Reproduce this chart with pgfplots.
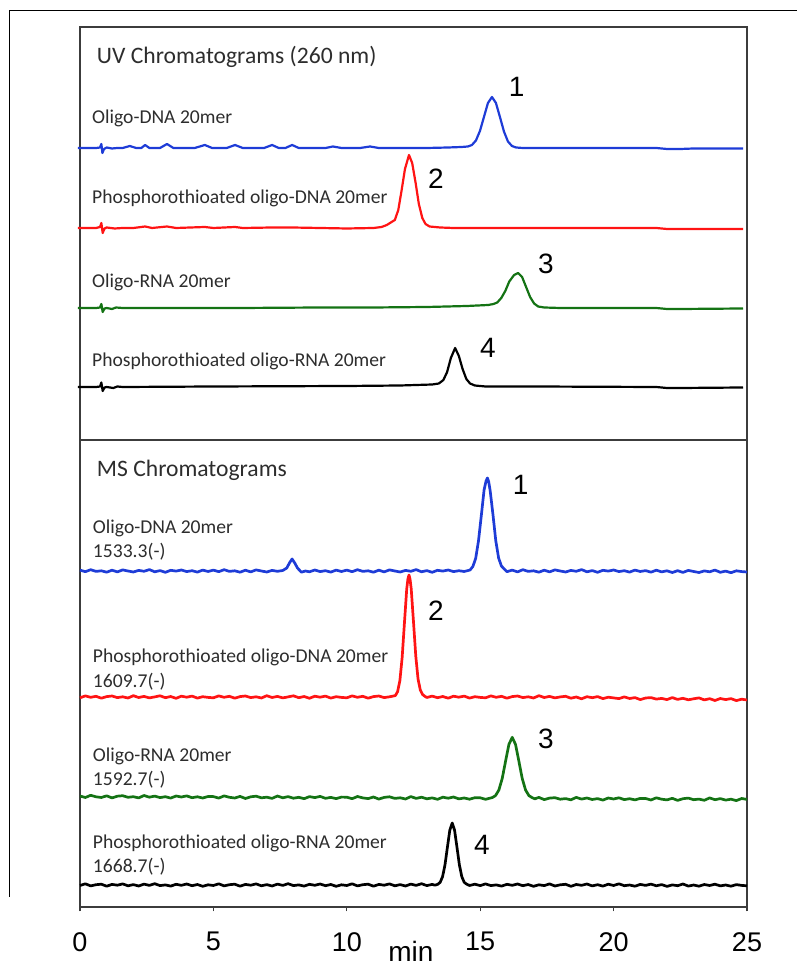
\documentclass[border=0pt]{standalone}
\usepackage{pgfplots}
\pgfplotsset{compat=1.18}
\usepackage{fontspec}
\setmainfont{Carlito}
\newfontfamily\arialf{Liberation Sans}
\definecolor{cblue}{RGB}{30,60,215}
\definecolor{cred}{RGB}{255,20,20}
\definecolor{cgreen}{RGB}{20,115,20}
\definecolor{txt}{RGB}{45,45,45}
\definecolor{frame}{RGB}{60,60,60}
\newcommand{\lab}{\fontsize{9.8}{11}\selectfont\color{txt}}
\newcommand{\ttl}{\fontsize{11.8}{13}\selectfont\color{txt}}
\newcommand{\num}{\arialf\fontsize{14}{16}\selectfont}
\begin{document}
\begin{tikzpicture}
\useasboundingbox (0,0) rectangle (398.5pt,484.5pt);
\draw[line width=0.5pt, black] (4.5pt,36pt) -- (4.5pt,479pt) -- (400pt,479pt);
\begin{axis}[
  at={(40pt,31pt)}, anchor=south west,
  scale only axis, width=333.5pt, height=440pt,
  xmin=0, xmax=25, ymin=0, ymax=880,
  xtick={0,5,10,15,20,25}, ytick=\empty,
  xtick pos=left, tick align=outside,
  major tick length=2.2pt,
  every tick/.style={frame, line width=0.6pt},
  axis line style={frame, line width=0.8pt},
  /pgf/number format/assume math mode=true,
  xticklabel style={font=\arialf\fontsize{13.5}{15}\selectfont, anchor=north, inner sep=0pt, yshift=-10.3pt},
  clip=false,
  every axis plot/.append style={no marks, line join=round, line width=1.1pt},
]
% divider
\addplot[frame, line width=0.8pt] coordinates {(0,467) (25,467)};

% ---------------- UV ----------------
\addplot[cblue] coordinates {
(-0.08,759) (0.6,759) (0.75,759.5) (0.8,763) (0.84,754) (0.9,758) (1.0,759.5) (1.2,758.5) (1.4,759) (1.6,759)
(1.87,761) (2.1,759) (2.3,759) (2.44,762) (2.6,759) (3.0,759) (3.26,763) (3.5,759) (4.3,759) (4.68,762)
(4.95,759) (5.5,759) (5.81,762) (6.1,759) (6.9,759) (7.2,762) (7.45,759) (7.7,759) (7.95,762) (8.2,759)
(9.2,759) (9.48,760.5) (9.8,759) (10.5,759) (10.87,760.5) (11.2,759) (12,759) (13,759) (13.8,759.5) (14.3,760)
(14.54,760.5) (14.69,762) (14.84,766.5) (14.99,776) (15.14,790) (15.29,804) (15.44,810) (15.59,804) (15.74,790)
(15.89,775.5) (16.04,765.5) (16.19,761) (16.34,759.5) (16.6,759) (18,759) (20,759) (21.6,759) (22,758)
(22.5,758) (23,758.5) (24.85,758.5)};
\addplot[cred] coordinates {
(-0.08,679) (0.6,679) (0.75,680) (0.8,684) (0.85,674) (0.92,678.5) (1.0,679.5) (1.3,678.5) (1.6,679) (2,679)
(2.44,680.5) (2.7,679) (3.26,680.5) (3.6,679) (4.68,680) (5,679) (5.81,680) (6.1,679) (7.2,679.5) (7.95,679.5)
(9,679) (10,678.5) (11,679) (11.3,680) (11.5,682) (11.65,684.5) (11.8,687) (11.93,697) (12.05,716) (12.18,738)
(12.33,752) (12.45,744) (12.58,724) (12.7,703) (12.83,689) (12.95,683) (13.1,680.5) (13.5,679.5) (14,679)
(18,679) (21.6,679) (22,678) (23,678) (24.85,678)};
\addplot[cgreen] coordinates {
(-0.08,599) (0.6,599) (0.75,599.5) (0.8,603) (0.85,595) (0.92,598.5) (1.0,599) (1.2,598) (1.35,599.5) (1.6,599)
(3,599) (6,599) (9,599.5) (11,599.5) (13,600) (14.5,601) (15.3,602) (15.5,603) (15.64,604.5) (15.79,609)
(15.94,616) (16.09,625.5) (16.27,632) (16.42,634) (16.57,630) (16.72,620) (16.87,610) (17.02,603.5) (17.17,600.5)
(17.4,599.5) (18,599) (21.6,599) (22,598) (22.5,598) (24.85,598.5)};
\addplot[black] coordinates {
(-0.08,520) (0.6,520) (0.75,520.5) (0.8,524.5) (0.85,516) (0.92,519.5) (1.0,520) (1.25,519) (1.4,520.5) (1.6,520)
(5,520.5) (10,521) (12,521.5) (13.2,522.5) (13.45,523.5) (13.62,527) (13.76,535) (13.9,549) (14.06,559)
(14.2,551) (14.34,538) (14.48,528) (14.62,523.5) (14.8,521.5) (15.2,520.5) (17,520.5) (21.6,520) (22,519)
(22.5,519) (24.85,519.5)};

% ---------------- MS ----------------
\addplot[cblue, line width=1.35pt] coordinates {
(0,336.9) (0.2,335.3) (0.4,337.3) (0.6,335.6) (0.8,336.2) (1.0,334.8) (1.2,336.8) (1.4,335.1) (1.6,337.1) (1.8,336)
(2.0,335) (2.2,336.6) (2.4,335.7) (2.6,337.4) (2.8,335.2) (3.0,336.4) (3.2,334.7) (3.4,336.7) (3.6,335.9) (3.8,337)
(4.0,335.4) (4.2,336.3) (4.4,334.9) (4.6,336.9) (4.8,335.5) (5.0,336.9) (5.2,335.3) (5.4,337.3) (5.6,335.6) (5.8,336.2)
(6.0,334.8) (6.2,336.8) (6.4,335.1) (6.6,337.1) (6.8,336) (7.0,335) (7.2,336.6) (7.4,335.7) (7.6,336.5) (7.75,339)
(7.85,344) (7.95,348) (8.05,344) (8.15,339) (8.3,334.8) (8.45,336) (8.6,335.2) (8.8,337) (9.0,335.4) (9.2,336.3)
(9.4,334.9) (9.6,336.9) (9.8,335.5) (10.0,336.9) (10.2,335.3) (10.4,337.3) (10.6,335.6) (10.8,336.2) (11.0,334.8)
(11.2,336.8) (11.4,335.1) (11.6,337.1) (11.8,336) (12.0,335) (12.2,336.6) (12.4,335.7) (12.6,337.4) (12.8,335.2)
(13.0,336.4) (13.2,334.7) (13.4,336.7) (13.6,335.9) (13.8,337) (14.0,335.4) (14.2,336.3) (14.4,335.5) (14.62,337)
(14.725,340.5) (14.83,348.5) (14.935,366) (15.04,391) (15.145,417) (15.22,426) (15.27,429) (15.32,425) (15.375,416)
(15.48,392) (15.585,366) (15.69,349) (15.795,341) (15.9,338) (16.0,335.3) (16.2,336.9) (16.4,335.1) (16.6,337.3)
(16.8,335.6) (17.0,336.2) (17.2,334.8) (17.4,336.8) (17.6,335.1) (17.8,337.1) (18.0,336) (18.2,335) (18.4,336.6)
(18.6,335.7) (18.8,337.4) (19.0,335.2) (19.2,336.4) (19.4,334.7) (19.6,336.7) (19.8,335.9) (20.0,337) (20.2,335.4)
(20.4,336.3) (20.6,334.9) (20.8,336.9) (21.0,335.5) (21.2,336.4) (21.4,334.8) (21.6,336.8) (21.8,335.1) (22.0,336.2)
(22.2,334.5) (22.4,336.3) (22.6,334.6) (22.8,336.6) (23.0,335.5) (23.2,334.5) (23.4,336.1) (23.6,335.2) (23.8,336.9)
(24.0,334.7) (24.2,335.9) (24.4,334.3) (24.6,336.2) (24.8,335.4) (25.0,335)};
\addplot[cred, line width=1.35pt] coordinates {
(0,209.2) (0.2,211.1) (0.4,209.7) (0.6,210.7) (0.8,208.8) (1.0,210.4) (1.2,211) (1.4,209.4) (1.6,210.2) (1.8,209)
(2.0,211.3) (2.2,209.5) (2.4,210.6) (2.6,209.1) (2.8,210.1) (3.0,211.2) (3.2,209.3) (3.4,210.5) (3.6,208.7) (3.8,210.8)
(4.0,209.8) (4.2,210.9) (4.4,208.9) (4.6,210.3) (4.8,209.6) (5.0,209.2) (5.2,211.1) (5.4,209.7) (5.6,210.7) (5.8,208.8)
(6.0,210.4) (6.2,211) (6.4,209.4) (6.6,210.2) (6.8,209) (7.0,211.3) (7.2,209.5) (7.4,210.6) (7.6,209.1) (7.8,210.1)
(8.0,211.2) (8.2,209.3) (8.4,210.5) (8.6,208.7) (8.8,210.8) (9.0,209.8) (9.2,210.9) (9.4,208.9) (9.6,210.3) (9.8,209.6)
(10.0,209.2) (10.2,211.1) (10.4,209.7) (10.6,210.7) (10.8,208.8) (11.0,210.4) (11.2,211) (11.4,209.4) (11.6,210.2)
(11.82,211.4) (11.905,215.4) (11.99,226.5) (12.075,249.6) (12.16,284) (12.245,317.7) (12.29,328) (12.33,332)
(12.37,328) (12.415,318) (12.5,285) (12.585,251) (12.67,228) (12.755,217) (12.84,212.5) (12.93,210.6) (13.0,209.5)
(13.2,210.9) (13.4,209.3) (13.6,210.5) (13.8,208.8) (14.0,210.8) (14.2,209.8) (14.4,210.9) (14.6,208.9) (14.8,210.3)
(15.0,209.6) (15.2,209.2) (15.4,211.1) (15.6,209.7) (15.8,210.7) (16.0,208.8) (16.2,210.4) (16.4,211) (16.6,209.4)
(16.8,210.2) (17.0,209) (17.2,211.3) (17.4,209.5) (17.6,210.6) (17.8,209.1) (18.0,210.1) (18.2,210.7) (18.4,208.8)
(18.6,210) (18.8,208.2) (19.0,210.3) (19.2,209.3) (19.4,210.4) (19.6,208.4) (19.8,209.8) (20.0,209.1) (20.2,208.4)
(20.4,210.1) (20.6,208.5) (20.8,209.4) (21.0,207.4) (21.2,209) (21.4,209.4) (21.6,207.9) (21.8,208.6) (22.0,207.4)
(22.2,209.4) (22.4,207.6) (22.6,208.7) (22.8,207.2) (23.0,208.2) (23.2,209.1) (23.4,207.1) (23.6,208.3) (23.8,206.5)
(24.0,208.5) (24.2,207.4) (24.4,208.4) (24.6,206.4) (24.8,207.8) (25.0,207)};
\addplot[cgreen, line width=1.35pt] coordinates {
(0,111) (0.2,109.5) (0.4,111.7) (0.6,110.2) (0.8,109.5) (1.0,111.2) (1.2,109.1) (1.4,110.8) (1.6,111.3) (1.8,109.7)
(2.0,110.3) (2.2,109.1) (2.4,111.5) (2.6,109.8) (2.8,110.9) (3.0,109.4) (3.2,110.3) (3.4,108.9) (3.6,111) (3.8,110)
(4.0,111.1) (4.2,109.3) (4.4,110.2) (4.6,109) (4.8,110.5) (5.0,110.4) (5.2,108.9) (5.4,111.1) (5.6,109.7) (5.8,109)
(6.0,110.6) (6.2,108.5) (6.4,110.2) (6.6,110.8) (6.8,109.2) (7.0,109.8) (7.2,108.6) (7.4,111) (7.6,109.2) (7.8,110.4)
(8.0,108.8) (8.2,109.7) (8.4,108.3) (8.6,110.4) (8.8,109.4) (9.0,110.6) (9.2,108.7) (9.4,109.6) (9.6,108.4) (9.8,109.9)
(10.0,109.8) (10.2,108.3) (10.4,110.5) (10.6,109.1) (10.8,108.4) (11.0,110) (11.2,107.9) (11.4,109.6) (11.6,110.2)
(11.8,108.6) (12.0,109.2) (12.2,108) (12.4,110.4) (12.6,108.6) (12.8,109.8) (13.0,108.2) (13.2,109.1) (13.4,107.7)
(13.6,109.8) (13.8,108.8) (14.0,110) (14.2,108.1) (14.4,109) (14.6,107.8) (14.8,109.3) (15.0,109.2) (15.2,107.7)
(15.45,109.4) (15.575,111.4) (15.7,117) (15.825,128.5) (15.95,145.7) (16.075,162.5) (16.2,169.7) (16.325,162.5)
(16.45,145.7) (16.575,128.5) (16.7,117) (16.825,111.4) (16.95,109.3) (17.05,108.2) (17.2,109.6) (17.4,107.4)
(17.6,108.9) (17.8,109.3) (18.0,107.8) (18.2,108.4) (18.4,107.2) (18.6,109.6) (18.8,107.9) (19.0,109) (19.2,107.5)
(19.4,108.4) (19.6,106.9) (19.8,109) (20.0,108) (20.2,109.2) (20.4,107.4) (20.6,108.3) (20.8,107.1) (21.0,108.6)
(21.2,108.5) (21.4,107) (21.6,109.2) (21.8,107.8) (22.0,107.1) (22.2,108.7) (22.4,106.6) (22.6,108.3) (22.8,108.9)
(23.0,107.3) (23.2,107.9) (23.4,106.7) (23.6,109.1) (23.8,107.3) (24.0,108.4) (24.2,106.9) (24.4,107.8) (24.6,106.4)
(24.8,108.5) (25.0,107.6)};
\addplot[black, line width=1.35pt] coordinates {
(0,21.5) (0.2,23.2) (0.4,21.1) (0.6,22.3) (0.8,22.8) (1.0,20.8) (1.2,22.6) (1.4,21.8) (1.6,23.1) (1.8,21.2)
(2.0,22.4) (2.2,21) (2.4,22.9) (2.6,21.6) (2.8,23.3) (3.0,21.4) (3.2,22.1) (3.4,20.9) (3.6,22.7) (3.8,21.7)
(4.0,23) (4.2,21.3) (4.4,22.5) (4.6,20.7) (4.8,22.2) (5.0,21.5) (5.2,23.2) (5.4,21.1) (5.6,22.3) (5.8,22.8)
(6.0,20.8) (6.2,22.6) (6.4,21.8) (6.6,23.1) (6.8,21.2) (7.0,22.4) (7.2,21) (7.4,22.9) (7.6,21.6) (7.8,23.3)
(8.0,21.4) (8.2,22.1) (8.4,20.9) (8.6,22.7) (8.8,21.7) (9.0,23) (9.2,21.3) (9.4,22.5) (9.6,20.7) (9.8,22.2)
(10.0,21.5) (10.2,23.2) (10.4,21.1) (10.6,22.3) (10.8,22.8) (11.0,20.8) (11.2,22.6) (11.4,21.8) (11.6,23.1) (11.8,21.2)
(12.0,22.4) (12.2,21) (12.4,22.9) (12.6,21.6) (12.8,23.3) (13.0,21.4) (13.2,22.6) (13.3,21.8) (13.41,22.7) (13.5,24.7)
(13.59,30.4) (13.68,42.1) (13.77,59.6) (13.86,76.7) (13.95,84) (14.04,76.7) (14.13,59.6) (14.22,42.1) (14.31,30.4)
(14.4,24.7) (14.49,22.9) (14.6,21.5) (14.8,22.8) (15.0,21.4) (15.2,23.1) (15.4,21.4) (15.6,22.1) (15.8,20.9) (16.0,22.7)
(16.2,21.7) (16.4,23) (16.6,21.3) (16.8,22.5) (17.0,20.7) (17.2,22.2) (17.4,21.4) (17.6,23.1) (17.8,21) (18.0,22.2)
(18.2,22.7) (18.4,20.7) (18.6,22.5) (18.8,21.7) (19.0,23) (19.2,21.1) (19.4,22.3) (19.6,20.9) (19.8,22.8) (20.0,21.5)
(20.2,23.2) (20.4,21.3) (20.6,22) (20.8,20.8) (21.0,22.6) (21.2,21.6) (21.4,22.9) (21.6,21.2) (21.8,22.4) (22.0,20.6)
(22.2,22.1) (22.4,21.3) (22.6,23) (22.8,20.9) (23.0,22) (23.2,20.8) (23.4,22.5) (23.6,21.5) (23.8,22.8) (24.0,21.1)
(24.2,22) (24.4,20.8) (24.6,22.4) (24.8,21.6) (25.0,21.2)};

% ---------------- texts ----------------
\node[anchor=base west, inner sep=0pt, font=\ttl] at (axis cs:0.62,843.7) {UV Chromatograms (260 nm)};
\node[anchor=base west, inner sep=0pt, font=\lab] at (axis cs:0.44,783) {Oligo-DNA 20mer};
\node[anchor=base west, inner sep=0pt, font=\lab] at (axis cs:0.44,703) {Phosphorothioated oligo-DNA 20mer};
\node[anchor=base west, inner sep=0pt, font=\lab] at (axis cs:0.44,619.7) {Oligo-RNA 20mer};
\node[anchor=base west, inner sep=0pt, font=\lab] at (axis cs:0.44,540.3) {Phosphorothioated oligo-RNA 20mer};

\node[anchor=base west, inner sep=0pt, font=\ttl] at (axis cs:0.62,430.3) {MS Chromatograms};
\node[anchor=base west, inner sep=0pt, font=\lab] at (axis cs:0.47,373) {Oligo-DNA 20mer};
\node[anchor=base west, inner sep=0pt, font=\lab] at (axis cs:0.47,349.7) {1533.3(-)};
\node[anchor=base west, inner sep=0pt, font=\lab] at (axis cs:0.47,244.3) {Phosphorothioated oligo-DNA 20mer};
\node[anchor=base west, inner sep=0pt, font=\lab] at (axis cs:0.47,219.3) {1609.7(-)};
\node[anchor=base west, inner sep=0pt, font=\lab] at (axis cs:0.47,145.3) {Oligo-RNA 20mer};
\node[anchor=base west, inner sep=0pt, font=\lab] at (axis cs:0.47,121) {1592.7(-)};
\node[anchor=base west, inner sep=0pt, font=\lab] at (axis cs:0.47,58) {Phosphorothioated oligo-RNA 20mer};
\node[anchor=base west, inner sep=0pt, font=\lab] at (axis cs:0.47,34.3) {1668.7(-)};

\node[inner sep=0pt, font=\num] at (axis cs:16.37,819.7) {1};
\node[inner sep=0pt, font=\num] at (axis cs:13.34,728) {2};
\node[inner sep=0pt, font=\num] at (axis cs:17.46,643) {3};
\node[inner sep=0pt, font=\num] at (axis cs:15.29,558.7) {4};
\node[inner sep=0pt, font=\num] at (axis cs:16.52,422) {1};
\node[inner sep=0pt, font=\num] at (axis cs:13.34,296.7) {2};
\node[inner sep=0pt, font=\num] at (axis cs:17.46,168) {3};
\node[inner sep=0pt, font=\num] at (axis cs:15.06,62.5) {4};

\node[anchor=base, inner sep=0pt, font=\arialf\fontsize{14}{16}\selectfont] at (axis cs:12.4,-54) {min};
\end{axis}
\end{tikzpicture}
\end{document}
